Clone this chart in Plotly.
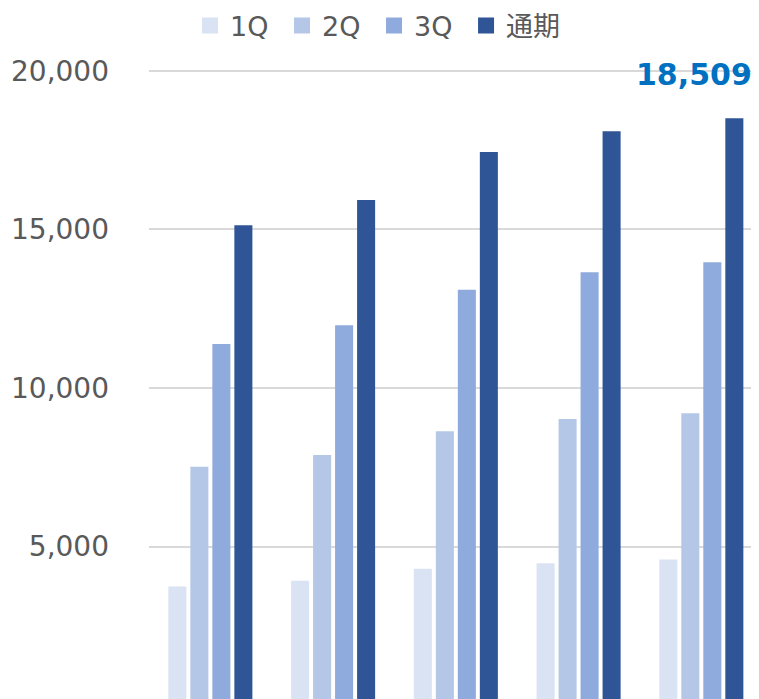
import plotly.graph_objects as go

categories = ["A", "B", "C", "D", "E"]
series_names = ["1Q", "2Q", "3Q", "通期"]
q1 = [3738, 3918, 4297, 4473, 4590]
q2 = [7517, 7886, 8634, 9022, 9202]
q3 = [11388, 11978, 13101, 13650, 13965]
full_year = [15132, 15931, 17445, 18098, 18509]
tick_vals = [5000, 10000, 15000, 20000]
tick_text = ["5,000", "10,000", "15,000", "20,000"]

colors = ["#DAE3F3", "#B4C7E7", "#8FAADC", "#2F5597"]
font_family = "DejaVu Sans, Verdana, Noto Sans CJK JP, sans-serif"

fig = go.Figure()
for name, vals, c in zip(series_names, [q1, q2, q3, full_year], colors):
    fig.add_trace(go.Bar(x=categories, y=vals, name=name, marker_color=c,
                         marker_line_width=0, showlegend=False))
# legend entries with larger square swatches (padded for even spacing)
for i, (name, c) in enumerate(zip(series_names, colors)):
    label = name + ("\u00a0" if i < len(series_names) - 1 else "")
    fig.add_trace(go.Scatter(x=[None], y=[None], mode="markers", name=label,
                             marker=dict(symbol="square", size=16, color=c)))

fig.add_annotation(x=categories[-1], y=full_year[-1], xref="x", yref="y",
                   text="<b>{:,}</b>".format(full_year[-1]), showarrow=False,
                   xshift=-7, yshift=44,
                   font=dict(family=font_family, size=30, color="#0070C0"))

fig.update_layout(
    width=759, height=699,
    margin=dict(l=141, r=0, t=42, b=0, autoexpand=False),
    plot_bgcolor="white", paper_bgcolor="white",
    barmode="group", bargap=0.283, bargroupgap=0.18,
    font=dict(family=font_family, size=28, color="#595959"),
    legend=dict(orientation="h", x=182 / 759, xanchor="left", xref="container",
                y=1 - 18 / 699, yanchor="middle", yref="container",
                font=dict(family=font_family, size=27, color="#595959"),
                traceorder="normal", itemwidth=30),
    showlegend=True,
)
fig.update_xaxes(range=[-0.5, 4.535], showticklabels=False, showgrid=False,
                 showline=False, zeroline=False)
fig.update_yaxes(range=[-63, 20662], tickvals=tick_vals, ticktext=tick_text,
                 showgrid=True, gridcolor="#D9D9D9", gridwidth=2, zeroline=False,
                 showline=False, ticklabelstandoff=39, automargin=False,
                 tickfont=dict(size=28, color="#595959"))

fig.write_html("out.html")
